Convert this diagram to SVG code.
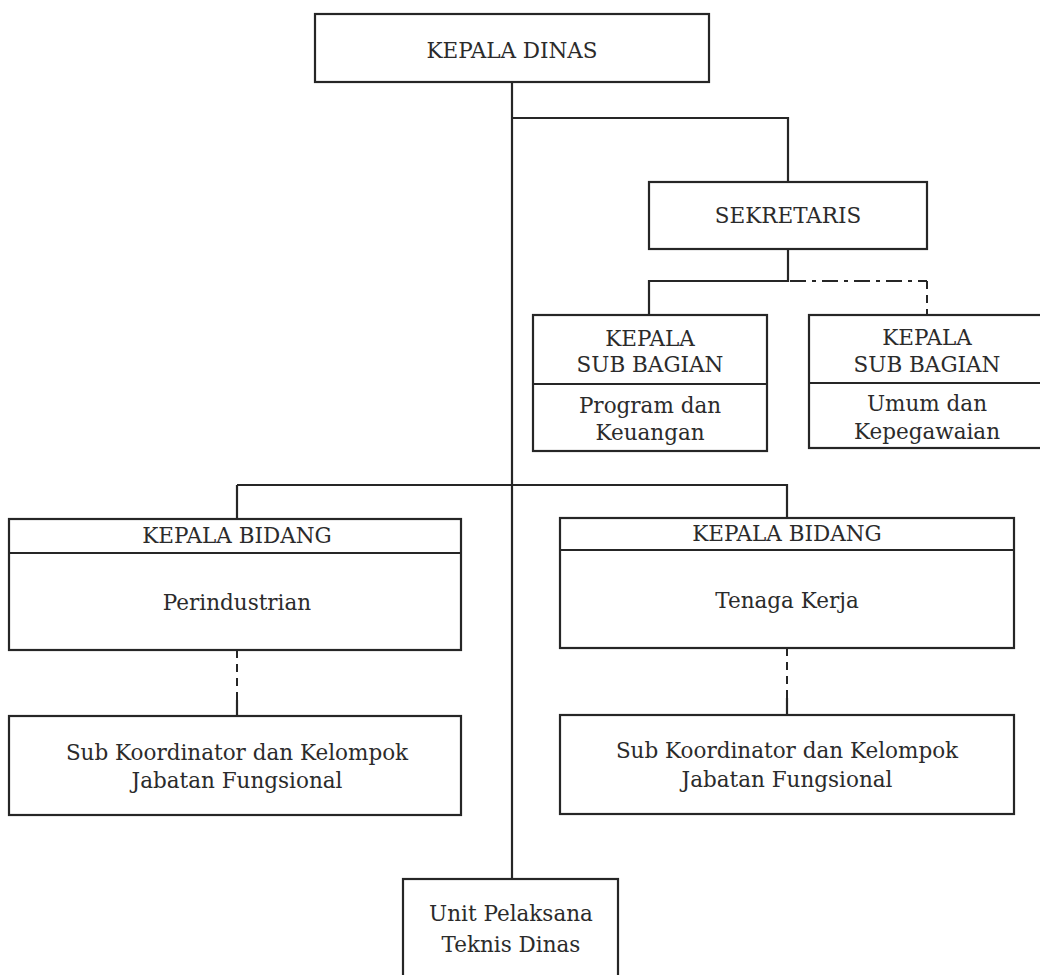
<svg xmlns="http://www.w3.org/2000/svg" width="1040" height="975" viewBox="0 0 1040 975">
  <style>
    .box { fill: #ffffff; stroke: #262626; stroke-width: 2.2; }
    .div { stroke: #262626; stroke-width: 2; fill: none; }
    .line { stroke: #262626; stroke-width: 2.2; fill: none; }
    .dash { stroke: #262626; stroke-width: 2; fill: none; stroke-dasharray: 8 6; }
    .dashdot { stroke: #262626; stroke-width: 2; fill: none; stroke-dasharray: 16 6 4 6; }
    text { font-family: "DejaVu Serif", "Liberation Serif", serif; font-size: 21.5px; fill: #2b2b2b; text-anchor: middle; dominant-baseline: central; }
  </style>
  <rect width="1040" height="975" fill="#ffffff"/>

  <!-- connectors -->
  <g id="connectors">
    <!-- main trunk -->
    <path class="line" d="M512 82 V879"/>
    <!-- to secretary -->
    <path class="line" d="M512 118 H788 V182"/>
    <!-- secretary to sub sections -->
    <path class="line" d="M788 249 V281 H649 V315"/>
    <path class="dashdot" d="M790 281 H927"/>
    <path class="dash" d="M927 281 V315"/>
    <!-- to departments -->
    <path class="line" d="M237 485 H787 V518"/>
    <path class="line" d="M237 485 V519"/>
    <!-- departments to functional groups -->
    <path class="dash" d="M237 650 V700"/>
    <path class="line" d="M237 700 V716"/>
    <path class="dash" d="M787 648 V698"/>
    <path class="line" d="M787 698 V715"/>
  </g>

  <g id="kepala-dinas">
    <rect class="box" x="315" y="14" width="394" height="68"/>
    <text x="512" y="50">KEPALA DINAS</text>
  </g>

  <g id="sekretaris">
    <rect class="box" x="649" y="182" width="278" height="67"/>
    <text x="788" y="215">SEKRETARIS</text>
  </g>

  <g id="subbag-program-keuangan">
    <rect class="box" x="533" y="315" width="234" height="136"/>
    <path class="div" d="M533 384 H767"/>
    <text x="650" y="338">KEPALA</text>
    <text x="650" y="364">SUB BAGIAN</text>
    <text x="650" y="405">Program dan</text>
    <text x="650" y="432">Keuangan</text>
  </g>

  <g id="subbag-umum-kepegawaian">
    <rect class="box" x="809" y="315" width="240" height="133"/>
    <path class="div" d="M809 383 H1049"/>
    <text x="927" y="337">KEPALA</text>
    <text x="927" y="364">SUB BAGIAN</text>
    <text x="927" y="403">Umum dan</text>
    <text x="927" y="431">Kepegawaian</text>
  </g>

  <g id="bidang-perindustrian">
    <rect class="box" x="9" y="519" width="452" height="131"/>
    <path class="div" d="M9 553 H461"/>
    <text x="237" y="535">KEPALA BIDANG</text>
    <text x="237" y="602">Perindustrian</text>
  </g>

  <g id="bidang-tenaga-kerja">
    <rect class="box" x="560" y="518" width="454" height="130"/>
    <path class="div" d="M560 550 H1014"/>
    <text x="787" y="533">KEPALA BIDANG</text>
    <text x="787" y="600">Tenaga Kerja</text>
  </g>

  <g id="fungsional-perindustrian">
    <rect class="box" x="9" y="716" width="452" height="99"/>
    <text x="237" y="752">Sub Koordinator dan Kelompok</text>
    <text x="237" y="780">Jabatan Fungsional</text>
  </g>

  <g id="fungsional-tenaga-kerja">
    <rect class="box" x="560" y="715" width="454" height="99"/>
    <text x="787" y="750">Sub Koordinator dan Kelompok</text>
    <text x="787" y="779">Jabatan Fungsional</text>
  </g>

  <g id="upt-dinas">
    <rect class="box" x="403" y="879" width="215" height="110"/>
    <text x="511" y="913">Unit Pelaksana</text>
    <text x="511" y="944">Teknis Dinas</text>
  </g>
</svg>
